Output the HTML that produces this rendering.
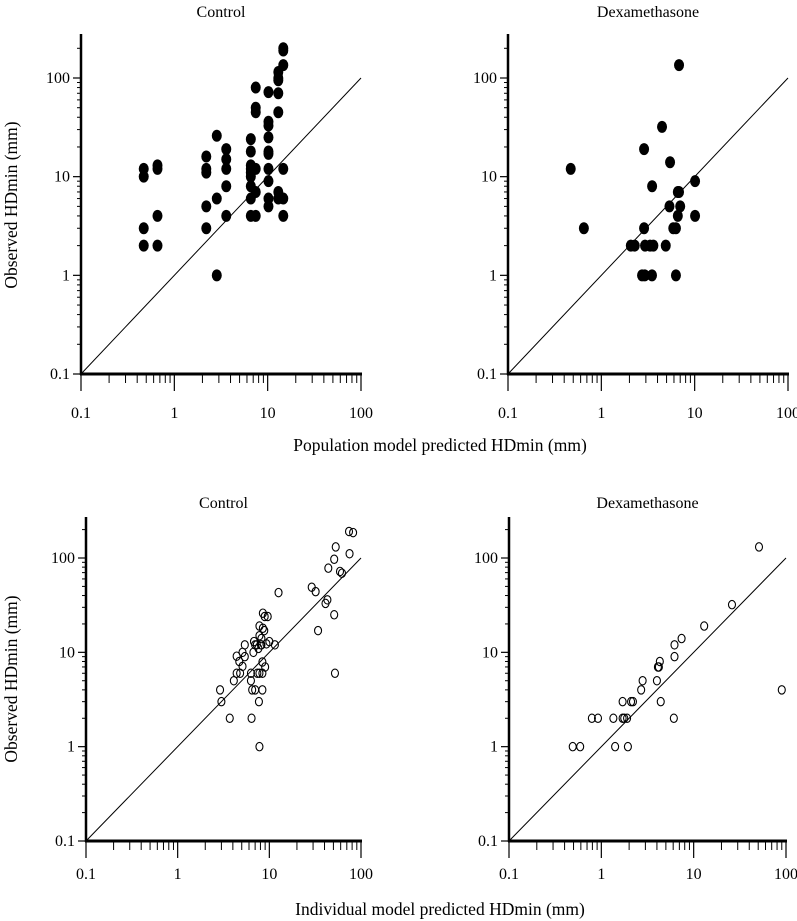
<!DOCTYPE html>
<html><head><meta charset="utf-8"><style>
html,body{margin:0;padding:0;background:#fff}
svg{display:block;font-family:"Liberation Serif",serif}
</style></head><body>
<svg id="chart" width="797" height="921" viewBox="0 0 797 921" xmlns="http://www.w3.org/2000/svg">
<text x="0" y="0" transform="translate(17,205) rotate(-90)" text-anchor="middle" font-size="17.5">Observed HDmin (mm)</text>
<text x="0" y="0" transform="translate(17,679) rotate(-90)" text-anchor="middle" font-size="17.5">Observed HDmin (mm)</text>
<text x="440" y="451" text-anchor="middle" font-size="17.5">Population model predicted HDmin (mm)</text>
<text x="440" y="915" text-anchor="middle" font-size="17.5">Individual model predicted HDmin (mm)</text>
</svg>
<script>
// Tick labels
const tickValues = [0.1, 1, 10, 100];
const tickLabels = ["0.1", "1", "10", "100"];
// Top-left: Control, population model (filled)
const popCtrlX = [0.47,0.47,0.47,0.47, 0.66,0.66,0.66,0.66, 2.2,2.2,2.2,2.2,2.2, 2.85,2.85,2.85, 3.6,3.6,3.6,3.6,3.6, 6.6,6.6,6.6,6.6,6.6,6.6,6.6,6.6,6.6, 7.45,7.45,7.45,7.45,7.45,7.45, 10.2,10.2,10.2,10.2,10.2,10.2,10.2,10.2,10.2,10.2, 13,13,13,13,13,13,13, 14.7,14.7,14.7,14.7,14.7,14.7];
const popCtrlY = [12,10,3,2, 13,12,4,2, 16,12,11,5,3, 26,6,1, 19,15,12,8,4, 24,18,13,12,11,10,8,6,4, 80,50,45,12,7,4, 72,36,33,25,18,17,12,9,6,5, 115,100,95,70,45,7,6, 200,190,135,12,6,4];
// Top-right: Dexamethasone, population model (filled)
const popDexX = [0.47,0.65,2.07,2.28,2.87,2.87,2.94,3.33,3.61,2.73,2.92,3.49,3.5,4.47,4.9,5.45,5.37,5.9,6.3,6.6,6.8,6.6,7.0,6.3,6.8,10.1,10.1];
const popDexY = [12,3,2,2,3,19,2,2,2,1,1,1,8,32,2,14,5,3,3,7,7,4,5,1,135,9,4];
// Bottom-left: Control, individual model (open)
const indCtrlX = [74,82,53,75,51,44,59,62,12.6,29,32,41,43,51,34,52, 8.5,8.9,9.6,7.8,8.5,8.8,7.8,8.2, 5.4,6.8,7.0,7.3,7.6,8.1,8.2,9.3,10,11.5, 5.1,4.4,5.4,4.7,5.1,6.7,8.4,9.0, 4.4,4.8,6.3,7.4,7.8,8.4, 4.1,6.3, 6.5,7.0,8.4,2.9, 3.0,7.7, 3.7,6.4, 7.8];
const indCtrlY = [191,186,131,111,97,78,72,69,43,49,44,33,36,25,17,6, 26,24,24,19,18,17,15,14, 12,13,12,12,11,12,12,12.3,13,12, 10,9.1,9,8,7.1,10,7.9,7, 6,6,6,6,6,6, 5,5, 4,4,4,4, 3,3, 2,2, 1];
// Bottom-right: Dexamethasone, individual model (open)
const indDexX = [51,26,13,7.4,6.2,6.2,4.3,4.1,4.2,4.0,4.4,2.8,2.7,2.1,2.2,1.7,1.35,1.7,1.77,1.9,0.79,0.92,6.1,0.49,0.59,1.41,1.94,90];
const indDexY = [131,32,19,14,12,9,8,7,7,5,3,5,4,3,3,3,2,2,2,2,2,2,2,1,1,1,1,4];
const panelTitles = ["Control","Dexamethasone","Control","Dexamethasone"];

const NS = "http://www.w3.org/2000/svg";
const svg = document.getElementById('chart');
function el(tag, attrs, parent){
  const e = document.createElementNS(NS, tag);
  for (const k in attrs) e.setAttribute(k, attrs[k]);
  (parent||svg).appendChild(e); return e;
}
const panels = [
  {name:'control-population', x0:81, x1:361, y0:374, y1:78, top:34, xs:popCtrlX, ys:popCtrlY, filled:true, labelY:418, titleY:17},
  {name:'dex-population', x0:508, x1:788, y0:374, y1:78, top:34, xs:popDexX, ys:popDexY, filled:true, labelY:418, titleY:17},
  {name:'control-individual', x0:86, x1:361, y0:841, y1:558, top:517, xs:indCtrlX, ys:indCtrlY, filled:false, labelY:879, titleY:508},
  {name:'dex-individual', x0:509, x1:786, y0:841, y1:558, top:517, xs:indDexX, ys:indDexY, filled:false, labelY:879, titleY:508}
];
panels.forEach((p, i) => {
  const g = el('g', {});
  
  
  const dx = (p.x1 - p.x0) / 3, dy = (p.y0 - p.y1) / 3;
  const sx = v => p.x0 + (Math.log10(v) + 1) * dx;
  const sy = v => p.y0 - (Math.log10(v) + 1) * dy;
  const t = el('text', {x:(p.x0+p.x1)/2, y:p.titleY, 'text-anchor':'middle', 'font-size':16}, g);
  
  
  t.textContent = panelTitles[i];
  const xa = el('line', {x1:p.x0-1, y1:p.y0, x2:p.x1+1, y2:p.y0, stroke:'#000', 'stroke-width':3}, g);
  
  
  const ya = el('line', {x1:p.x0, y1:p.y0+1, x2:p.x0, y2:p.top, stroke:'#000', 'stroke-width':2.5}, g);
  
  
  for (let d = 0; d < 3; d++) {
    for (let m = 2; m <= 9; m++) {
      const v = tickValues[d] * m;
      el('line', {x1:sx(v), y1:p.y0, x2:sx(v), y2:p.y0+9, stroke:'#000', 'stroke-width':1}, g);
    }
  }
  const yMax = Math.pow(10, (p.y0 - p.top) / dy - 1);
  for (let d = 0; d < 4; d++) {
    for (let m = 2; m <= 9; m++) {
      const v = tickValues[d] * m;
      if (v > yMax) break;
      el('line', {x1:p.x0-4, y1:sy(v), x2:p.x0, y2:sy(v), stroke:'#000', 'stroke-width':1}, g);
    }
  }
  tickValues.forEach((v, k) => {
    el('line', {x1:sx(v), y1:p.y0, x2:sx(v), y2:p.y0+17, stroke:'#000', 'stroke-width':1.2}, g);
    el('line', {x1:p.x0-8, y1:sy(v), x2:p.x0, y2:sy(v), stroke:'#000', 'stroke-width':1.2}, g);
    const xl = el('text', {x:sx(v), y:p.labelY, 'text-anchor':'middle', 'font-size':16}, g);
    
    
    xl.textContent = tickLabels[k];
    const yl = el('text', {x:p.x0-11, y:sy(v)+5, 'text-anchor':'end', 'font-size':16}, g);
    
    
    yl.textContent = tickLabels[k];
  });
  const ln = el('line', {x1:sx(0.1), y1:sy(0.1), x2:sx(100), y2:sy(100), stroke:'#000', 'stroke-width':1}, g);
  
  
  p.xs.forEach((xv, j) => {
    const c = p.filled
      ? el('ellipse', {cx:sx(xv), cy:sy(p.ys[j]), rx:5, ry:6, fill:'#000'}, g)
      : el('ellipse', {cx:sx(xv), cy:sy(p.ys[j]), rx:3.5, ry:4.2, fill:'none', stroke:'#000', 'stroke-width':1.1}, g);
    
    
  });
});
</script>
</body></html>
